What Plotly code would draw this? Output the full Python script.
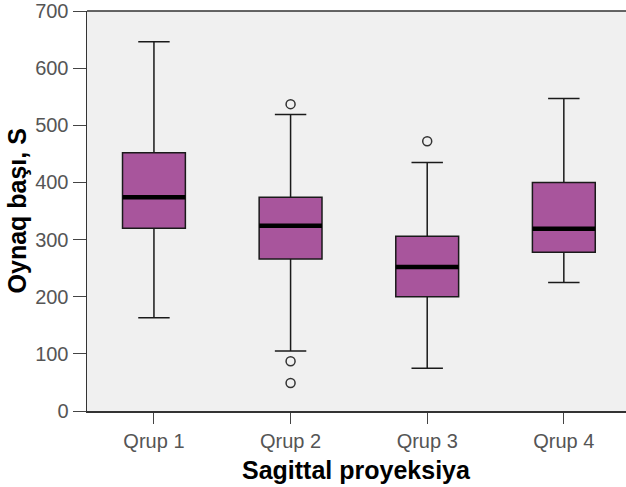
import plotly.graph_objects as go

categories = ["Qrup 1", "Qrup 2", "Qrup 3", "Qrup 4"]
lower_whisker = [163, 105, 75, 225]
q1 = [320, 266, 200, 278]
median = [374, 324, 252, 319]
q3 = [452, 374, 306, 400]
upper_whisker = [646, 519, 435, 547]
outlier_group = [1, 1, 1, 2]
outlier_values = [537, 87, 49, 472]
y_ticks = [0, 100, 200, 300, 400, 500, 600, 700]

pos = list(range(len(categories)))
box_color = "#A8559C"

fig = go.Figure()
fig.add_trace(go.Box(
    x=pos, q1=q1, median=median, q3=q3,
    lowerfence=lower_whisker, upperfence=upper_whisker,
    fillcolor=box_color, line=dict(color="#1a1a1a", width=1.5),
    width=0.46, whiskerwidth=0.5, boxpoints=False, showlegend=False,
    hoverinfo="skip"
))
for i, m in enumerate(median):
    fig.add_trace(go.Scatter(
        x=[pos[i] - 0.23, pos[i] + 0.23], y=[m, m], mode="lines",
        line=dict(color="black", width=4.5), showlegend=False, hoverinfo="skip"
    ))
fig.add_trace(go.Scatter(
    x=[pos[g] for g in outlier_group], y=outlier_values, mode="markers",
    marker=dict(symbol="circle-open", size=9, color="#333333", line=dict(width=1.5)),
    showlegend=False, hoverinfo="skip"
))

font_fam = "Liberation Sans, Arial, sans-serif"
fig.update_layout(
    width=626, height=487,
    margin=dict(l=87, r=0, t=11, b=76, autoexpand=False),
    paper_bgcolor="white", plot_bgcolor="#F0F0F0",
    font=dict(family=font_fam, color="#555555", size=20),
    xaxis=dict(
        range=[-0.49, 3.455], tickmode="array", tickvals=pos, ticktext=categories,
        showgrid=False, zeroline=False, showline=True, linecolor="#333333", linewidth=1.5,
        ticks="outside", ticklen=11, tickcolor="#444444", tickwidth=1,
        tickfont=dict(size=20, color="#555555"), automargin=False,
    ),
    yaxis=dict(
        range=[0, 700], tickmode="array", tickvals=y_ticks,
        showgrid=False, zeroline=False, showline=True, linecolor="#333333", linewidth=1.5,
        ticks="outside", ticklen=13, tickcolor="#444444", tickwidth=1,
        tickfont=dict(size=20, color="#555555"), automargin=False,
    ),
    shapes=[dict(type="line", xref="paper", yref="paper", x0=0, x1=1, y0=1, y1=1,
                 line=dict(color="#333333", width=1.5))],
    annotations=[
        dict(text="<b>Sagittal proyeksiya</b>", xref="paper", yref="paper",
             x=0.5, y=-0.1475, yanchor="middle", xanchor="center", showarrow=False,
             font=dict(size=25, color="black")),
        dict(text="<b>Oynaq başı, S</b>", xref="paper", yref="paper",
             x=-0.129, y=0.5, xanchor="center", yanchor="middle", textangle=-90,
             showarrow=False, font=dict(size=25, color="black")),
    ],
)
fig.write_html("out.html", config={"displayModeBar": False, "staticPlot": True},
               post_script="document.body.style.margin='0';document.body.style.overflow='hidden';")
